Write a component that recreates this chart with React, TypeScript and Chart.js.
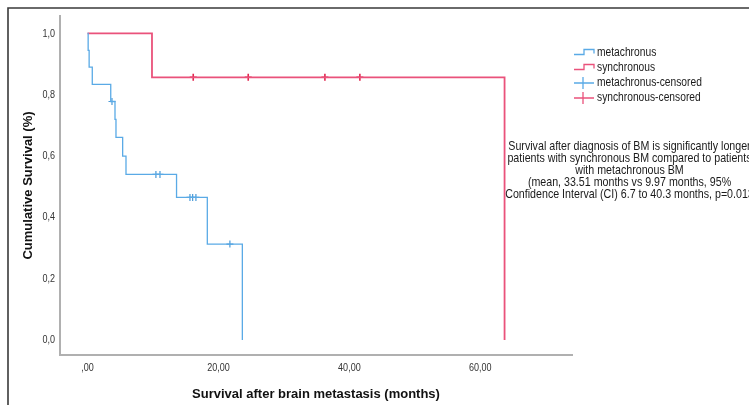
import React, { useEffect, useRef } from "react";
import { Chart, registerables } from "chart.js";
Chart.register(...registerables);

// ---- data ----
const seriesNames = ["metachronus", "synchronous", "metachronus-censored", "synchronous-censored"];
const metaTimes = [0, 0.1, 0.25, 0.73, 3.55, 4.2, 4.35, 5.37, 5.88, 13.6, 18.3, 23.65];
const metaSurv = [1.0, 0.945, 0.89, 0.834, 0.778, 0.72, 0.661, 0.6, 0.54, 0.465, 0.313, 0.0];
const syncTimes = [0, 9.85, 63.7];
const syncSurv = [1.0, 0.857, 0.0];
const metaCensorTimes = [3.74, 10.45, 11.07, 15.65, 16.06, 16.56, 21.75];
const metaCensorSurv = [0.778, 0.54, 0.54, 0.465, 0.465, 0.465, 0.313];
const syncCensorTimes = [16.15, 24.55, 36.26, 41.6];
const syncCensorSurv = [0.857, 0.857, 0.857, 0.857];
const xTickValues = [0, 20, 40, 60];
const xTickLabels = [",00", "20,00", "40,00", "60,00"];
const yTickValues = [0, 0.2, 0.4, 0.6, 0.8, 1.0];
const yTickLabels = ["0,0", "0,2", "0,4", "0,6", "0,8", "1,0"];
const xAxisTitle = "Survival after brain metastasis (months)";
const yAxisTitle = "Cumulative Survival (%)";
const noteLines = [
  "Survival after diagnosis of BM is significantly longer",
  "patients with synchronous BM compared to patients",
  "with metachronous BM",
  "(mean, 33.51 months vs 9.97 months, 95%",
  "Confidence Interval (CI) 6.7 to 40.3 months, p=0.013",
];

const BLUE = "#5aaae6";
const BLUE_MARK = "#4a9ad8";
const RED = "#ea527b";
const RED_MARK = "#e2264f";
const SANS = "'Liberation Sans', Arial, sans-serif";
const NARROW_X = 0.82;

const toPoints = (xs: number[], ys: number[]) => xs.map((x, i) => ({ x, y: ys[i] }));

function narrowText(
  ctx: CanvasRenderingContext2D,
  text: string,
  x: number,
  y: number,
  size: number,
  align: CanvasTextAlign,
  color: string
) {
  ctx.save();
  ctx.translate(x, y);
  ctx.scale(NARROW_X, 1);
  ctx.font = `${size}px ${SANS}`;
  ctx.fillStyle = color;
  ctx.textAlign = align;
  ctx.textBaseline = "middle";
  ctx.fillText(text, 0, 0);
  ctx.restore();
}

const decorPlugin = {
  id: "decor",
  afterDraw(chart: any) {
    const ctx = chart.ctx as CanvasRenderingContext2D;
    ctx.save();
    // outer frame
    ctx.strokeStyle = "#3a3a3a";
    ctx.lineWidth = 1.6;
    ctx.beginPath();
    ctx.moveTo(8, 420);
    ctx.lineTo(8, 8);
    ctx.lineTo(760, 8);
    ctx.stroke();

    // tick labels through the scales
    const xs = chart.scales.x;
    const ys = chart.scales.y;
    xTickValues.forEach((v, i) => {
      narrowText(ctx, xTickLabels[i], xs.getPixelForValue(v), xs.top + 12.5, 11, "center", "#333");
    });
    yTickValues.forEach((v, i) => {
      narrowText(ctx, yTickLabels[i], ys.right - 5, ys.getPixelForValue(v), 11, "right", "#333");
    });

    // legend
    const ds = chart.data.datasets;
    const lx0 = 574, lx1 = 594, tx = 597;
    ds.forEach((d: any, i: number) => {
      const y = 53 + i * 15;
      ctx.strokeStyle = d.legendColor;
      ctx.lineWidth = 1.3;
      ctx.beginPath();
      if (i < 2) {
        ctx.moveTo(lx0, y + 1.5);
        ctx.lineTo(lx0 + 10, y + 1.5);
        ctx.lineTo(lx0 + 10, y - 3.5);
        ctx.lineTo(lx1, y - 3.5);
        ctx.lineTo(lx1, y + 0.5);
      } else {
        ctx.moveTo(lx0, y);
        ctx.lineTo(lx1, y);
        ctx.moveTo(lx0 + 9, y - 6);
        ctx.lineTo(lx0 + 9, y + 6);
      }
      ctx.stroke();
      narrowText(ctx, d.label, tx, y, 12.5, "left", "#1a1a1a");
    });

    // annotation
    noteLines.forEach((t, i) => narrowText(ctx, t, 629.5, 146.5 + i * 11.9, 13, "center", "#1a1a1a"));
    ctx.restore();
  },
};

export default function App() {
  const ref = useRef<HTMLCanvasElement | null>(null);
  useEffect(() => {
    if (!ref.current) return;
    const chart = new Chart(ref.current, {
      type: "scatter",
      data: {
        datasets: [
          {
            label: seriesNames[0],
            data: toPoints(metaTimes, metaSurv),
            showLine: true,
            stepped: true,
            borderColor: BLUE,
            borderWidth: 1.3,
            pointRadius: 0,
            legendColor: BLUE,
          } as any,
          {
            label: seriesNames[1],
            data: toPoints(syncTimes, syncSurv),
            showLine: true,
            stepped: true,
            borderColor: RED,
            borderWidth: 1.8,
            pointRadius: 0,
            legendColor: RED,
          } as any,
          {
            label: seriesNames[2],
            data: toPoints(metaCensorTimes, metaCensorSurv),
            showLine: false,
            pointStyle: "cross",
            pointRadius: 3.5,
            borderColor: BLUE_MARK,
            borderWidth: 1.2,
            legendColor: BLUE,
          } as any,
          {
            label: seriesNames[3],
            data: toPoints(syncCensorTimes, syncCensorSurv),
            showLine: false,
            pointStyle: "cross",
            pointRadius: 3.5,
            borderColor: RED_MARK,
            borderWidth: 1.6,
            legendColor: RED,
          } as any,
        ],
      },
      options: {
        animation: false,
        responsive: false,
        layout: { padding: { left: 0, right: 177, top: 16, bottom: 0 } },
        plugins: { legend: { display: false }, tooltip: { enabled: false } },
        scales: {
          x: {
            type: "linear",
            min: -4.2,
            max: 74,
            grid: { display: false, drawTicks: false },
            border: { display: true, color: "#b0b0b0", width: 2 },
            afterBuildTicks: (s: any) => {
              s.ticks = xTickValues.map((v) => ({ value: v }));
            },
            afterFit: (s: any) => {
              s.height = 50;
            },
            ticks: { display: false },
            title: {
              display: true,
              text: xAxisTitle,
              color: "#111",
              font: { family: SANS, size: 13, weight: "bold" },
              padding: { top: 0, bottom: 3 },
            },
          },
          y: {
            type: "linear",
            min: -0.049,
            max: 1.057,
            grid: { display: false, drawTicks: false },
            border: { display: true, color: "#b0b0b0", width: 2 },
            afterBuildTicks: (s: any) => {
              s.ticks = yTickValues.map((v) => ({ value: v }));
            },
            afterFit: (s: any) => {
              s.width = 60;
            },
            ticks: { display: false },
            title: {
              display: true,
              text: yAxisTitle,
              color: "#111",
              font: { family: SANS, size: 13, weight: "bold" },
              padding: { top: 21, bottom: 0 },
            },
          },
        },
      } as any,
      plugins: [decorPlugin],
    });
    return () => chart.destroy();
  }, []);
  return (
    <div style={{ position: "absolute", left: 0, top: 0, width: 749, height: 405, background: "#fff" }}>
      <canvas ref={ref} width={749} height={405} style={{ display: "block" }} />
    </div>
  );
}
